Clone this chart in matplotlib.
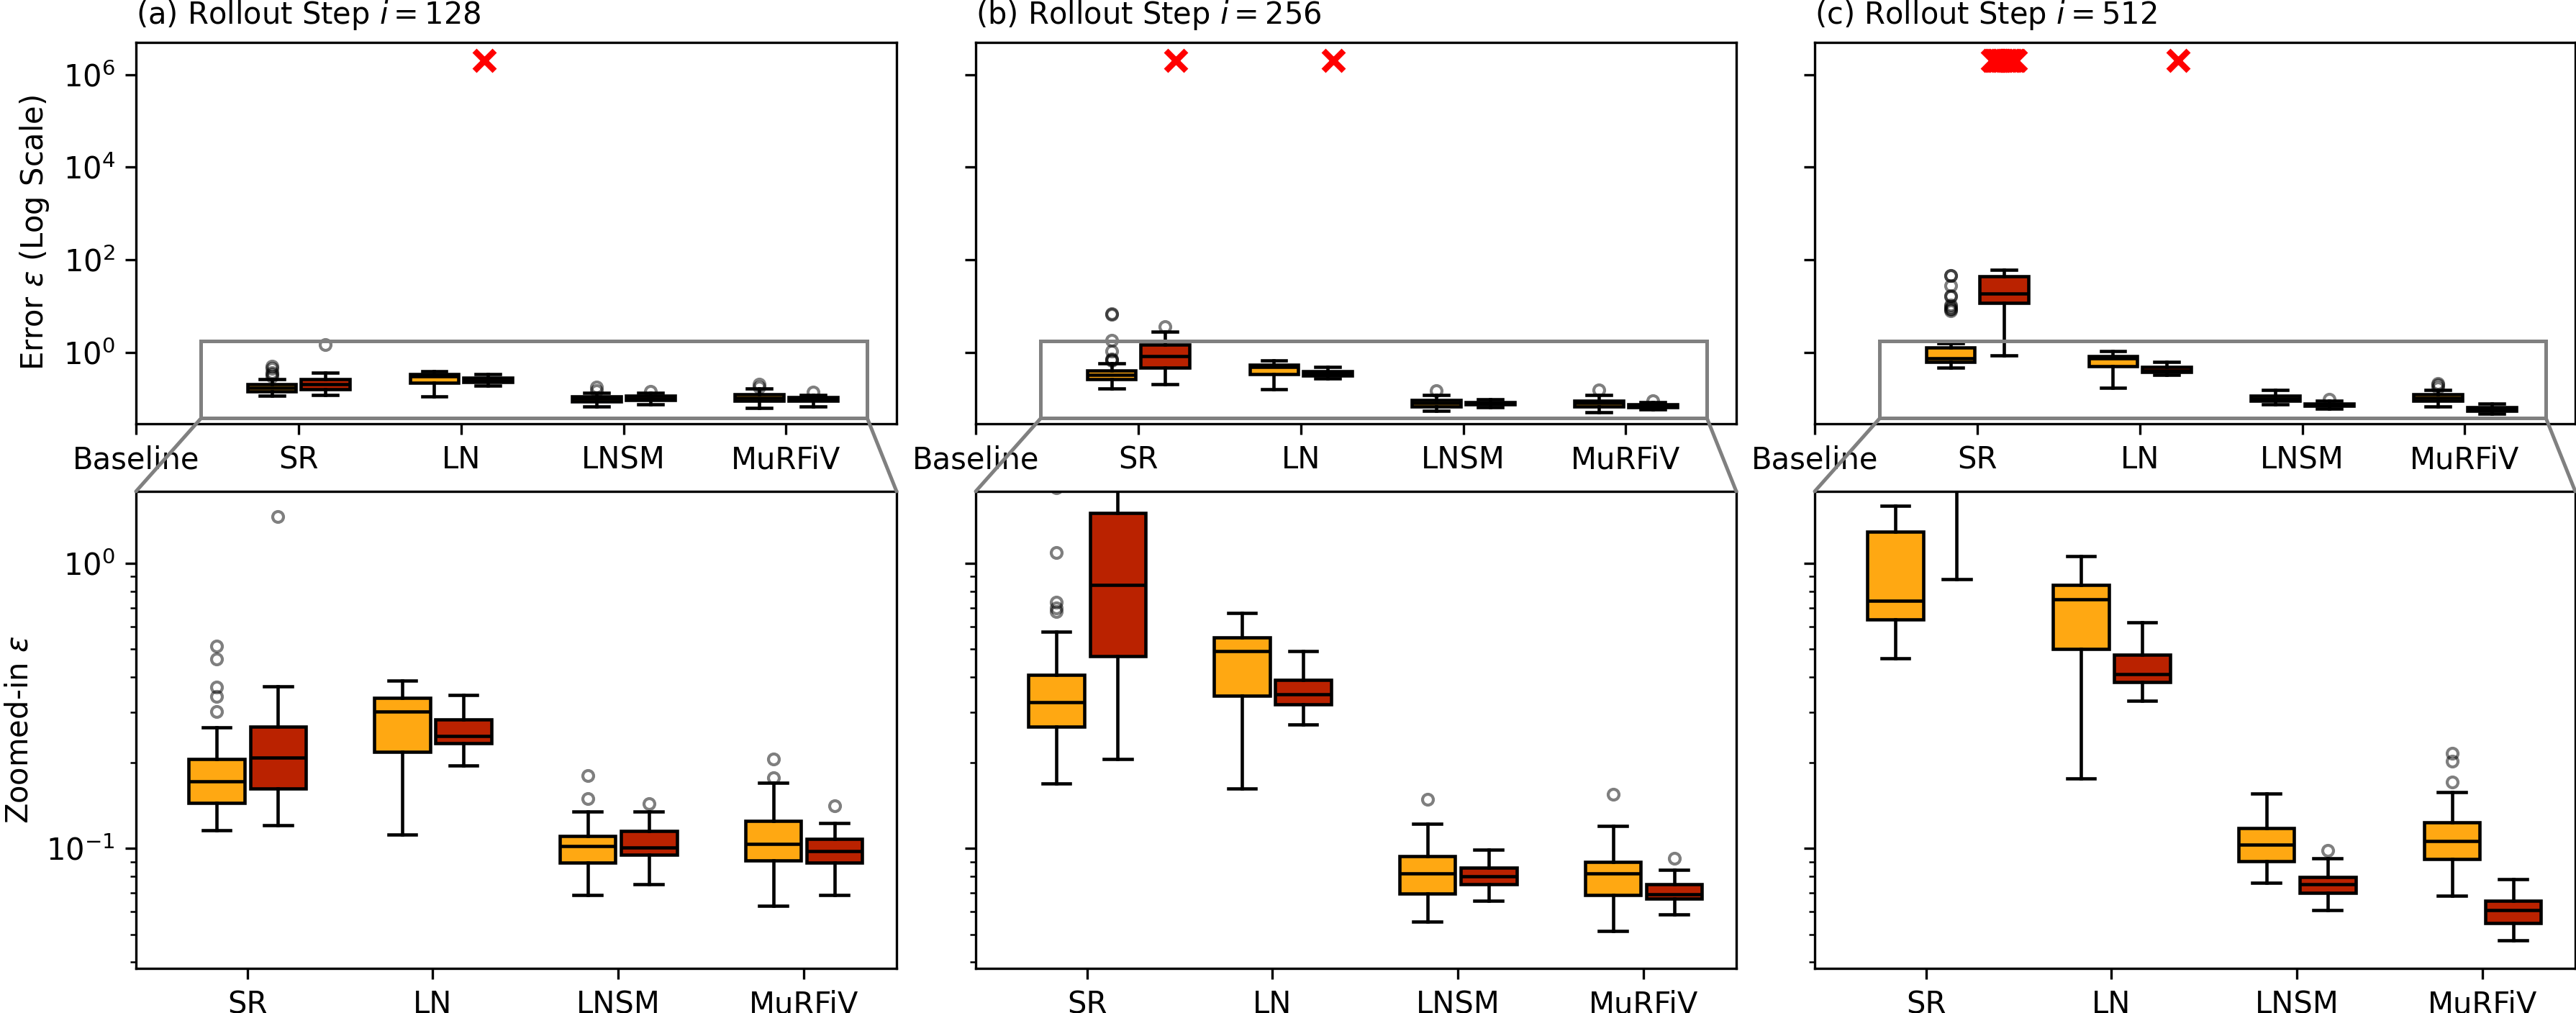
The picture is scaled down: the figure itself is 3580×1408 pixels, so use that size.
import numpy as np
import matplotlib
matplotlib.use("Agg")
import matplotlib.pyplot as plt
from matplotlib.ticker import NullLocator, FixedLocator
from matplotlib.patches import Rectangle, ConnectionPatch

# ---------------- data ----------------
methods = ["SR", "LN", "LNSM", "MuRFiV"]
top_labels = ["Baseline", "SR", "LN", "LNSM", "MuRFiV"]
steps = [128, 256, 512]
letters = ["a", "b", "c"]

# box statistics per method: [whislo, q1, median, q3, whishi]
orange_stats_128 = [[0.116, 0.145, 0.172, 0.206, 0.266],
                    [0.112, 0.219, 0.302, 0.337, 0.389],
                    [0.0689, 0.0893, 0.102, 0.111, 0.135],
                    [0.0629, 0.0906, 0.104, 0.125, 0.170]]
orange_fliers_128 = [[0.513, 0.461, 0.368, 0.342, 0.302], [], [0.180, 0.150], [0.206, 0.177]]
red_stats_128 = [[0.121, 0.162, 0.209, 0.267, 0.371],
                 [0.196, 0.234, 0.248, 0.284, 0.346],
                 [0.0748, 0.095, 0.101, 0.115, 0.135],
                 [0.0689, 0.0895, 0.0977, 0.108, 0.123]]
red_fliers_128 = [[1.46], [], [0.144], [0.141]]

orange_stats_256 = [[0.169, 0.268, 0.327, 0.407, 0.577],
                    [0.162, 0.344, 0.492, 0.551, 0.671],
                    [0.0554, 0.0694, 0.082, 0.0942, 0.122],
                    [0.0513, 0.0689, 0.0816, 0.0898, 0.120]]
orange_fliers_256 = [[6.8, 6.6, 1.84, 1.09, 0.73, 0.70, 0.68], [], [0.149], [0.155]]
red_stats_256 = [[0.206, 0.473, 0.843, 1.50, 2.77],
                 [0.272, 0.321, 0.348, 0.391, 0.492],
                 [0.0658, 0.0748, 0.0799, 0.0857, 0.0992],
                 [0.0589, 0.0666, 0.0692, 0.0748, 0.0843]]
red_fliers_256 = [[3.57], [], [], [0.0923]]

orange_stats_512 = [[0.466, 0.638, 0.741, 1.29, 1.59],
                    [0.176, 0.502, 0.748, 0.843, 1.06],
                    [0.076, 0.0901, 0.103, 0.118, 0.156],
                    [0.0682, 0.092, 0.106, 0.1235, 0.158]]
orange_fliers_512 = [[46.0, 45.0, 27.7, 17.1, 16.5, 10.6, 10.0, 9.0, 8.5, 8.0], [], [],
                     [0.216, 0.202, 0.171]]
red_stats_512 = [[0.88, 11.9, 18.5, 44.7, 61.4],
                 [0.330, 0.383, 0.408, 0.480, 0.623],
                 [0.061, 0.0698, 0.0750, 0.0797, 0.0923],
                 [0.0476, 0.0548, 0.0607, 0.0658, 0.078]]
red_fliers_512 = [[], [], [0.0986], []]

# diverged runs (plotted as red crosses at the top), x offset from the red box centre
diverged_value = 2e6
div_128 = {"LN": [-0.02]}
div_256 = {"SR": [0.065], "LN": [0.035]}
div_512 = {"SR": [-0.071, -0.064, -0.052, -0.047, -0.035, -0.022, -0.015, -0.004,
                  0.008, 0.017, 0.029, 0.038, 0.049, 0.061, 0.069],
           "LN": [0.072]}

panels = [
    (orange_stats_128, orange_fliers_128, red_stats_128, red_fliers_128, div_128),
    (orange_stats_256, orange_fliers_256, red_stats_256, red_fliers_256, div_256),
    (orange_stats_512, orange_fliers_512, red_stats_512, red_fliers_512, div_512),
]

# ---------------- style ----------------
ORANGE = "#FFA812"
RED = "#BA2200"
OFFSET = 0.165
WIDTH = 0.3
LW = 1.1
zoom_xlim = (0.4, 4.5)
zoom_ylim = (0.038, 1.79)

fig = plt.figure(figsize=(3580 / 300, 1408 / 300), dpi=300)

lefts = [189 / 3580, 1356 / 3580, 2522 / 3580]
width = 1057 / 3580
top_rect_y = (1 - 589 / 1408, (589 - 58.5) / 1408)
bot_rect_y = (1 - 1346 / 1408, (1346 - 683) / 1408)


def draw_boxes(ax, stats, fliers, positions, color):
    bx = [dict(whislo=s[0], q1=s[1], med=s[2], q3=s[3], whishi=s[4], fliers=f)
          for s, f in zip(stats, fliers)]
    ax.bxp(bx, positions=positions, widths=WIDTH, patch_artist=True, manage_ticks=False,
           boxprops=dict(facecolor=color, edgecolor="black", linewidth=LW),
           medianprops=dict(color="black", linewidth=LW),
           whiskerprops=dict(color="black", linewidth=LW),
           capprops=dict(color="black", linewidth=LW),
           flierprops=dict(marker="o", markerfacecolor="none", markeredgecolor="black",
                           alpha=0.5, markersize=3.6, markeredgewidth=1.0))


for k, (os_, of_, rs_, rf_, div) in enumerate(panels):
    ax_t = fig.add_axes([lefts[k], top_rect_y[0], width, top_rect_y[1]])
    ax_b = fig.add_axes([lefts[k], bot_rect_y[0], width, bot_rect_y[1]])
    pos = np.arange(1, len(methods) + 1)
    for ax in (ax_t, ax_b):
        ax.set_yscale("log")
        draw_boxes(ax, os_, of_, pos - OFFSET, ORANGE)
        draw_boxes(ax, rs_, rf_, pos + OFFSET, RED)

    # diverged runs
    for m, offs in div.items():
        i = methods.index(m) + 1
        xs = [i + OFFSET + o for o in offs]
        ax_t.scatter(xs, [diverged_value] * len(xs), marker="x", color="red",
                     s=45, linewidths=2.0, zorder=5)

    ax_t.set_xlim(0, 4.68)
    ax_t.set_ylim(0.029, 5e6)
    ax_t.set_xticks(range(len(top_labels)))
    ax_t.set_xticklabels(top_labels)
    ax_t.yaxis.set_major_locator(FixedLocator([1e0, 1e2, 1e4, 1e6]))
    ax_t.yaxis.set_minor_locator(NullLocator())
    ax_t.set_title(rf"({letters[k]}) Rollout Step $i = {steps[k]}$", loc="left", fontsize=10)

    ax_b.set_xlim(*zoom_xlim)
    ax_b.set_ylim(*zoom_ylim)
    ax_b.set_xticks(pos)
    ax_b.set_xticklabels(methods)

    if k == 0:
        ax_t.set_ylabel(r"Error $\varepsilon$ (Log Scale)")
        ax_b.set_ylabel(r"Zoomed-in $\varepsilon$")
    else:
        ax_t.tick_params(labelleft=False)
        ax_b.tick_params(axis="y", which="both", labelleft=False)

    # zoom indicator
    rect = Rectangle((zoom_xlim[0], zoom_ylim[0]), zoom_xlim[1] - zoom_xlim[0],
                     zoom_ylim[1] - zoom_ylim[0], fill=False, edgecolor="0.5",
                     linewidth=1.2, zorder=4.99)
    ax_t.add_patch(rect)
    for xa, xb in ((zoom_xlim[0], 0), (zoom_xlim[1], 1)):
        cp = ConnectionPatch(xyA=(xa, zoom_ylim[0]), coordsA=ax_t.transData,
                             xyB=(xb, 1), coordsB=ax_b.transAxes,
                             color="0.5", linewidth=1.2)
        fig.add_artist(cp)

fig.savefig("out.png", dpi=300)
